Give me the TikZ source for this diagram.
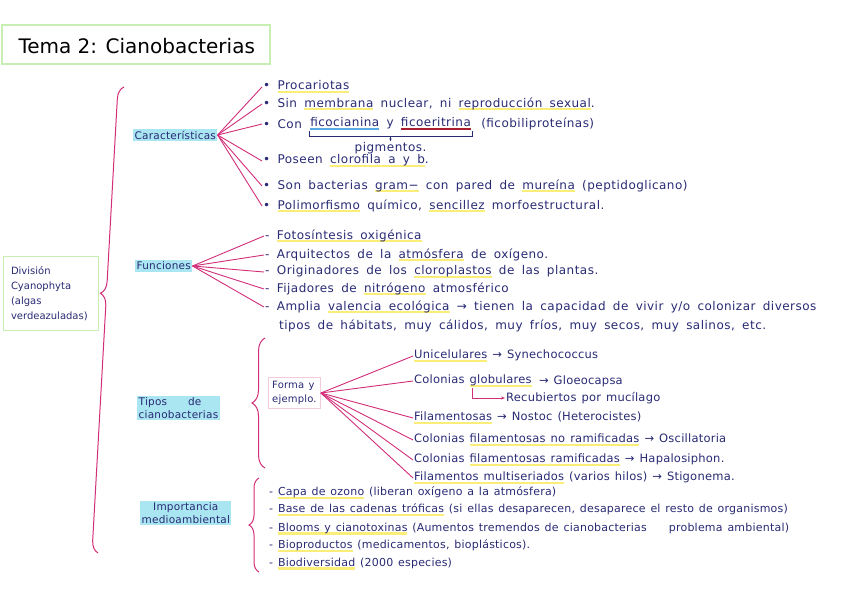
\documentclass[tikz,border=0pt]{standalone}
\usepackage{fontspec}
\setmainfont{DejaVu Sans}
\newfontfamily\letraancha{DejaVu Sans}[LetterSpace=4,WordSpace=1.7]
\newfontfamily\letramedia{DejaVu Sans}[LetterSpace=2,WordSpace=1.3]
\usetikzlibrary{positioning,arrows.meta,decorations.pathreplacing}

\definecolor{tinta}{RGB}{40,42,115}
\definecolor{rosa}{RGB}{210,45,120}
\definecolor{celeste}{RGB}{170,230,242}
\definecolor{amarillo}{RGB}{250,238,120}
\definecolor{verdeclaro}{RGB}{200,238,180}
\definecolor{azulsub}{RGB}{90,170,230}
\definecolor{rojosub}{RGB}{170,30,50}

% subrayado de color (rotulador)
\newsavebox\marcabox
\newcommand{\marca}[2]{\sbox\marcabox{#2}\rlap{\textcolor{#1}{\rule[-0.5ex]{\wd\marcabox}{2.4pt}}}\usebox\marcabox}

\begin{document}
\begin{tikzpicture}[x=1pt,y=-1pt,
  texto/.style={text=tinta,font=\letraancha\fontsize{12}{13}\selectfont,anchor=west,inner sep=1pt},
  textob/.style={text=tinta,font=\letramedia\fontsize{11.5}{13}\selectfont,anchor=west,inner sep=1pt},
  textoc/.style={text=tinta,font=\letramedia\fontsize{11}{13}\selectfont,anchor=west,inner sep=1pt},
  tema/.style={text=tinta,fill=celeste,font=\letramedia\fontsize{10.5}{13}\selectfont,inner sep=1.5pt,align=left},
  rama/.style={rosa,line width=0.9pt},
  llave/.style={rosa,line width=1pt,decorate}]
  \useasboundingbox (0,0) rectangle (848,599);

  % Titulo
  \draw[verdeclaro,line width=2pt] (2,25) rectangle (270,64);
  \node[anchor=west,font=\fontsize{20}{22}\selectfont] (titulo) at (15,46) {Tema 2: Cianobacterias};

  % Division
  \node[draw=verdeclaro,line width=1pt,anchor=north west,minimum width=95pt,minimum height=74pt,
        inner xsep=7pt,text width=80pt,align=left,text=tinta,font=\fontsize{10}{15}\selectfont] (division) at (3,256)
        {División\\Cyanophyta\\(algas\\verdeazuladas)};
  \draw[llave,decoration={brace,amplitude=12pt,aspect=0.556}] (98,553) -- (124,87);

  % Caracteristicas
  \node[tema,anchor=west] (caract) at (133,135) {Características};
  \node[texto] (c1) at (262,87) {• \marca{amarillo}{Procariotas}};
  \node[texto] (c2) at (262,104) {• Sin \marca{amarillo}{membrana} nuclear, ni \marca{amarillo}{reproducción sexual}.};
  \node[texto] (c3) at (262,124) {• Con};
  \node[texto,right=6pt of c3] (fico) {\marca{azulsub}{ficocianina} y \marca{rojosub}{ficoeritrina}};
  \node[texto,right=8pt of fico] (ficob) {(ficobiliproteínas)};
  \node[texto,below=10pt of fico] (pigm) {pigmentos.};
  \node[texto] (c4) at (262,161) {• Poseen \marca{amarillo}{clorofila a y b}.};
  \node[texto] (c5) at (262,186) {• Son bacterias \marca{amarillo}{gram−} con pared de \marca{amarillo}{mureína} (peptidoglicano)};
  \node[texto] (c6) at (262,206) {• \marca{amarillo}{Polimorfismo} químico, \marca{amarillo}{sencillez} morfoestructural.};
  \foreach \i in {1,...,6} {
    \draw[rama] (caract.east) -- (c\i.west);
  }
  \draw[tinta,line width=0.6pt] (fico.south west) -- ++(0,5) -| (fico.south east);
  \draw[tinta,line width=0.6pt,-{Stealth[length=3pt]}] ([yshift=-5pt]fico.south) -- (pigm.north);

  % Funciones
  \node[tema,anchor=west] (func) at (135,266) {Funciones};
  \node[texto] (f1) at (264,236) {- \marca{amarillo}{Fotosíntesis oxigénica}};
  \node[texto] (f2) at (264,255) {- Arquitectos de la \marca{amarillo}{atmósfera} de oxígeno.};
  \node[texto] (f3) at (264,272) {- Originadores de los \marca{amarillo}{cloroplastos} de las plantas.};
  \node[texto] (f4) at (264,289) {- Fijadores de \marca{amarillo}{nitrógeno} atmosférico};
  \node[texto] (f5) at (264,307) {- Amplia \marca{amarillo}{valencia ecológica} → tienen la capacidad de vivir y/o colonizar diversos};
  \node[texto] (f5b) at (278,326) {tipos de hábitats, muy cálidos, muy fríos, muy secos, muy salinos, etc.};
  \foreach \i in {1,...,5} {
    \draw[rama] (func.east) -- (f\i.west);
  }

  % Tipos de cianobacterias
  \node[tema,anchor=west] (tipos) at (137,408) {Tipos\qquad de\\cianobacterias};
  \draw[llave,decoration={brace,amplitude=13pt,aspect=0.5}] (265,468) -- (265,338);
  \node[draw=rosa!25,text=tinta,font=\letramedia\fontsize{10}{14}\selectfont,align=left,inner sep=4pt,anchor=west] (forma) at (268,393) {Forma y\\ejemplo.};
  \node[textob] (t1) at (413,356) {\marca{amarillo}{Unicelulares} → Synechococcus};
  \node[textob] (t2) at (413,381) {Colonias \marca{amarillo}{globulares}};
  \node[textob,right=5pt of t2] (t2b) {→ Gloeocapsa};
  \node[textob] (muc) at (505,398) {Recubiertos por mucílago};
  \node[textob] (t3) at (413,418) {\marca{amarillo}{Filamentosas} → Nostoc (Heterocistes)};
  \node[textob] (t4) at (413,440) {Colonias \marca{amarillo}{filamentosas no ramificadas} → Oscillatoria};
  \node[textob] (t5) at (413,460) {Colonias \marca{amarillo}{filamentosas ramificadas} → Hapalosiphon.};
  \node[textob] (t6) at (413,478) {\marca{amarillo}{Filamentos multiseriados} (varios hilos) → Stigonema.};
  \foreach \i in {1,...,6} {
    \draw[rama] (forma.east) -- (t\i.west);
  }
  \draw[rama,-{Stealth[length=4pt]}] (t2.south) |- (muc.west);

  % Importancia medioambiental
  \node[tema,align=center,anchor=west] (impor) at (140,513) {Importancia\\medioambiental};
  \draw[llave,decoration={brace,amplitude=10pt,aspect=0.5}] (259,572) -- (259,478);
  \node[textoc] (i1) at (268,493) {- \marca{amarillo}{Capa de ozono} (liberan oxígeno a la atmósfera)};
  \node[textoc] (i2) at (268,510) {- \marca{amarillo}{Base de las cadenas tróficas} (si ellas desaparecen, desaparece el resto de organismos)};
  \node[textoc] (i3) at (268,529) {- \marca{amarillo}{Blooms y cianotoxinas} (Aumentos tremendos de cianobacterias\qquad problema ambiental)};
  \node[textoc] (i4) at (268,546) {- \marca{amarillo}{Bioproductos} (medicamentos, bioplásticos).};
  \node[textoc] (i5) at (268,564) {- \marca{amarillo}{Biodiversidad} (2000 especies)};
\end{tikzpicture}
\end{document}
